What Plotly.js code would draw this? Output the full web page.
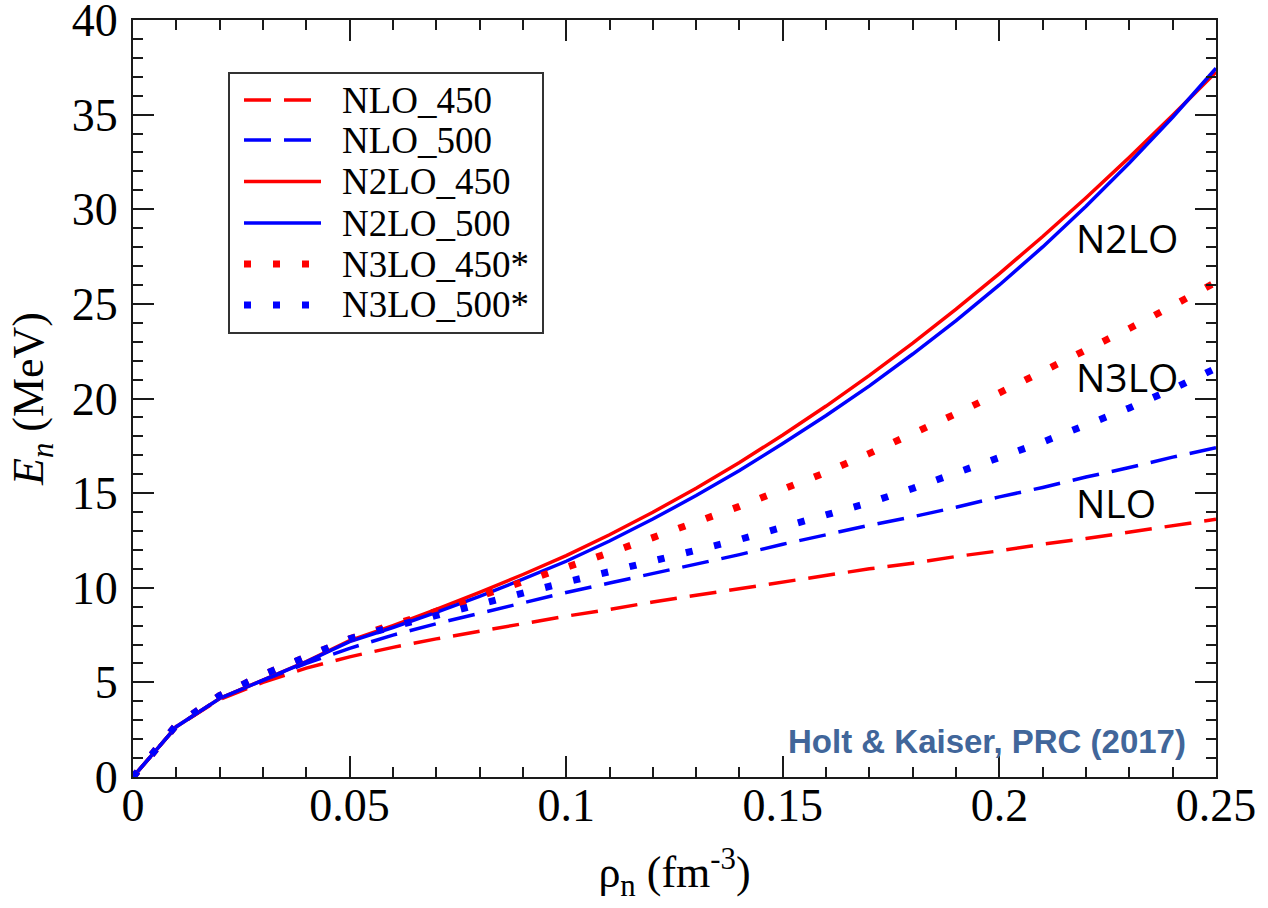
<!DOCTYPE html>
<html>
<head>
<meta charset="utf-8">
<script src="https://cdn.plot.ly/plotly-3.0.1.min.js"></script>
<style>
  html, body { margin: 0; padding: 0; background: #ffffff; }
  #chart { width: 1268px; height: 908px; }
</style>
</head>
<body>
<div id="chart"></div>
<script>
// Neutron matter energy per particle vs. neutron density
const density = [0.00, 0.01, 0.02, 0.03, 0.04, 0.05, 0.06, 0.07, 0.08, 0.09,
                 0.10, 0.11, 0.12, 0.13, 0.14, 0.15, 0.16, 0.17, 0.18, 0.19,
                 0.20, 0.21, 0.22, 0.23, 0.24, 0.25];

const nlo450 = [0, 2.66, 4.10, 5.00, 5.75, 6.35, 6.85, 7.30, 7.70, 8.10,
                8.50, 8.85, 9.25, 9.60, 9.95, 10.30, 10.65, 11.00, 11.30, 11.65,
                11.95, 12.30, 12.60, 12.95, 13.30, 13.62];
const nlo500 = [0, 2.66, 4.15, 5.10, 6.00, 6.80, 7.50, 8.10, 8.65, 9.20,
                9.75, 10.25, 10.75, 11.25, 11.75, 12.30, 12.80, 13.30, 13.75, 14.25,
                14.80, 15.30, 15.85, 16.35, 16.90, 17.40];
const n2lo450 = [0, 2.66, 4.15, 5.10, 6.10, 7.20, 8.00, 8.85, 9.75, 10.70,
                 11.70, 12.80, 13.99, 15.26, 16.62, 18.07, 19.60, 21.22, 22.93, 24.72,
                 26.60, 28.56, 30.61, 32.74, 34.96, 37.25];
const n2lo500 = [0, 2.66, 4.15, 5.10, 6.08, 7.15, 7.90, 8.70, 9.55, 10.45,
                 11.40, 12.47, 13.63, 14.87, 16.20, 17.62, 19.10, 20.67, 22.35, 24.12,
                 26.00, 28.01, 30.16, 32.44, 34.86, 37.45];
const n3lo450 = [0, 2.75, 4.30, 5.40, 6.35, 7.30, 8.05, 8.75, 9.55, 10.30,
                 11.05, 11.85, 12.65, 13.45, 14.30, 15.20, 16.10, 17.10, 18.10, 19.20,
                 20.30, 21.40, 22.50, 23.70, 24.90, 26.15];
const n3lo500 = [0, 2.75, 4.30, 5.40, 6.35, 7.30, 7.95, 8.55, 9.15, 9.70,
                 10.30, 10.85, 11.40, 12.00, 12.55, 13.20, 13.85, 14.50, 15.25, 16.05,
                 16.85, 17.70, 18.60, 19.50, 20.50, 21.60];

const seriesNames = ['NLO_450', 'NLO_500', 'N2LO_450', 'N2LO_500', 'N3LO_450*', 'N3LO_500*'];
const seriesValues = [nlo450, nlo500, n2lo450, n2lo500, n3lo450, n3lo500];

const xTickVals = [0, 0.05, 0.1, 0.15, 0.2, 0.25];
const xTickText = ['0', '0.05', '0.1', '0.15', '0.2', '0.25'];
const yTickVals = [0, 5, 10, 15, 20, 25, 30, 35, 40];

const orderLabels = ['N2LO', 'N3LO', 'NLO'];
const citation = 'Holt & Kaiser, PRC (2017)';

// line styles, one per series
const RED = '#ff0000', BLUE = '#0000ff';
const styles = [
  {color: RED,  dash: '27px,13px', width: 3.5},
  {color: BLUE, dash: '27px,13px', width: 3.5},
  {color: RED,  dash: 'solid',     width: 3.5},
  {color: BLUE, dash: 'solid',     width: 3.5},
  {color: RED,  dash: '7px,22px',  width: 7},
  {color: BLUE, dash: '7px,22px',  width: 7}
];

const traces = seriesNames.map((name, i) => ({
  type: 'scatter',
  mode: 'lines',
  name: name,
  x: density,
  y: seriesValues[i],
  line: {color: styles[i].color, dash: styles[i].dash, width: styles[i].width, shape: 'linear'},
  showlegend: false,
  hoverinfo: 'x+y+name'
}));

const SERIF = 'Liberation Serif, Times New Roman, serif';
const AXIS_COLOR = '#1a1a1a';

// pixel helpers for the plot frame (left 133, right 1216, top 20, bottom 777)
const L = 133, R = 1216, T = 20, B = 777;
const px = v => (v - L) / (R - L);
const py = v => (B - v) / (B - T);

// hand-drawn legend box
const shapes = [{
  type: 'rect', xref: 'paper', yref: 'paper',
  x0: px(229), x1: px(543), y0: py(333), y1: py(73),
  line: {color: '#333333', width: 2}, fillcolor: 'rgba(255,255,255,1)', layer: 'above'
}];
const annotations = [];
const rowY = [100, 140, 181.5, 223, 264, 305];
seriesNames.forEach((name, i) => {
  shapes.push({
    type: 'line', xref: 'paper', yref: 'paper',
    x0: px(244), x1: px(321), y0: py(rowY[i]), y1: py(rowY[i]),
    line: {color: styles[i].color, dash: styles[i].dash, width: styles[i].width},
    layer: 'above'
  });
  annotations.push({
    xref: 'paper', yref: 'paper', x: px(340), y: py(rowY[i]),
    xanchor: 'left', yanchor: 'middle', showarrow: false,
    text: name, font: {family: SERIF, size: 37, color: '#000000'}
  });
});

// order labels at the right edge
const labelY = [237, 376, 502];
orderLabels.forEach((t, i) => {
  annotations.push({
    xref: 'paper', yref: 'paper', x: px(1074), y: py(labelY[i]),
    xanchor: 'left', yanchor: 'middle', showarrow: false,
    text: t, font: {family: 'Open Sans, Noto Sans, sans-serif', size: 39, color: '#000000'}
  });
});

annotations.push({
  xref: 'paper', yref: 'paper', x: px(1188), y: py(741),
  xanchor: 'right', yanchor: 'middle', showarrow: false,
  text: '<b>' + citation.replace('&', '&amp;') + '</b>',
  font: {family: 'Liberation Sans, Arial, sans-serif', size: 33, color: '#41669a'}
});

const axisCommon = {
  showgrid: false,
  zeroline: false,
  showline: true,
  linecolor: AXIS_COLOR,
  linewidth: 2,
  mirror: 'allticks',
  ticks: 'inside',
  ticklen: 21,
  tickwidth: 2,
  tickcolor: AXIS_COLOR,
  ticklabeloverflow: 'allow',
  tickfont: {family: SERIF, size: 46, color: '#000000'},
  fixedrange: true
};

const layout = {
  width: 1268,
  height: 908,
  margin: {l: L, r: 1268 - R, t: T, b: 908 - B, pad: 0},
  paper_bgcolor: '#ffffff',
  plot_bgcolor: '#ffffff',
  showlegend: false,
  xaxis: Object.assign({}, axisCommon, {
    range: [0, 0.25],
    tickmode: 'array',
    tickvals: xTickVals,
    ticktext: xTickText,
    ticklabelstandoff: -13,
    minor: {ticks: 'inside', ticklen: 10, tickwidth: 2, tickcolor: AXIS_COLOR, dtick: 0.01, showgrid: false},
    title: {
      text: 'ρ<sub>n</sub> (fm<sup>-3</sup>)',
      font: {family: SERIF, size: 44, color: '#000000'},
      standoff: 26
    }
  }),
  yaxis: Object.assign({}, axisCommon, {
    range: [0, 40],
    tickmode: 'array',
    tickvals: yTickVals,
    ticktext: yTickVals.map(String),
    ticklabelstandoff: 4,
    minor: {ticks: 'inside', ticklen: 10, tickwidth: 2, tickcolor: AXIS_COLOR, dtick: 1, showgrid: false},
    title: {
      text: '<i>E</i><sub><i>n</i></sub> (MeV)',
      font: {family: SERIF, size: 44, color: '#000000'},
      standoff: 14
    }
  }),
  shapes: shapes,
  annotations: annotations
};

Plotly.newPlot('chart', traces, layout, {displayModeBar: false, staticPlot: true});
</script>
</body>
</html>
